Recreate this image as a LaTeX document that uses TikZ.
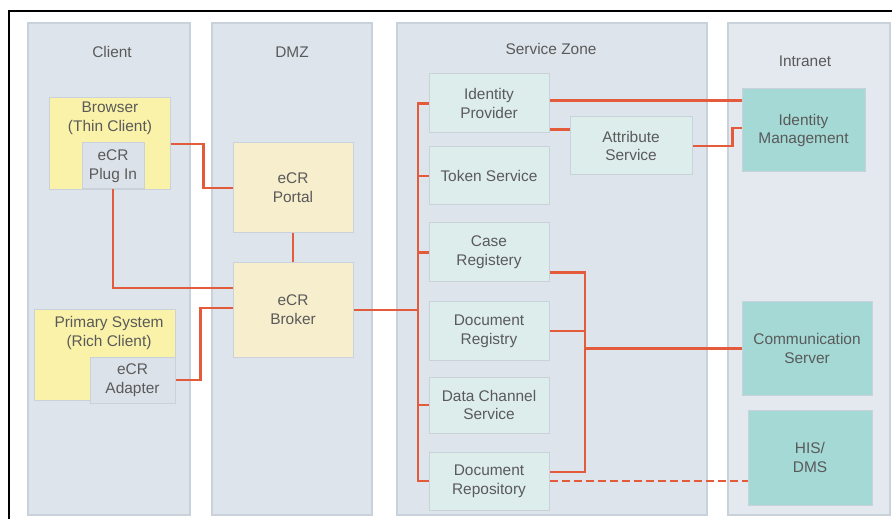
\documentclass[tikz,border=0pt]{standalone}
\usepackage{fontspec}
\setmainfont{Liberation Sans}
\usepackage{xcolor}
\usetikzlibrary{calc}

\definecolor{zonefill}{HTML}{DDE4EC}
\definecolor{zoneline}{HTML}{C9D1DB}
\definecolor{thinyellow}{HTML}{FAF2A8}
\definecolor{creambox}{HTML}{F7EECD}
\definecolor{plugfill}{HTML}{DCE2EA}
\definecolor{svcfill}{HTML}{DDEDEC}
\definecolor{tealbox}{HTML}{A4D9D5}
\definecolor{linkred}{HTML}{E45B3B}
\definecolor{txt}{HTML}{5A5A5A}

\begin{document}
\begin{tikzpicture}[x=1bp, y=-1bp,
  every node/.style={font=\fontsize{15.5}{19}\selectfont, text=txt, align=center},
  zone/.style={draw=zoneline, fill=zonefill, line width=1.2bp},
  box/.style={draw=zoneline, line width=1bp, inner sep=0pt},
  link/.style={draw=linkred, line width=2.6bp},
  dashlink/.style={link, dash pattern=on 8bp off 4bp}]
  \useasboundingbox (0,0) rectangle (892,519);

  % Frame
  \draw[line width=1.2bp] (9,519) -- (9,11) -- (892,11);

  % Zones
  \draw[zone] (28,23) rectangle (190,515);
  \draw[zone] (212,23) rectangle (372,515);
  \draw[zone] (397,23) rectangle (707,515);
  \draw[zone, fill=zonefill!80!white] (728,23) rectangle (890,515);

  % Zone titles
  \node (tclient) at (112,52) {Client};
  \node (tdmz) at (292,52) {DMZ};
  \node (tsvc) at (551,49) {Service Zone};
  \node (tintra) at (805,61) {Intranet};

  % Client
  \node[box, fill=thinyellow, minimum width=120bp, minimum height=92bp,
        label={[anchor=north, yshift=-1bp]north:Browser\\(Thin Client)}] (browser) at (110,144) {};
  \node[box, fill=plugfill, minimum width=62bp, minimum height=46bp] (plugin) at (113,166) {eCR\\Plug In};
  \node[box, fill=thinyellow, minimum width=140bp, minimum height=90bp,
        label={[anchor=north, xshift=4bp, yshift=-3bp]north:Primary System\\(Rich Client)}] (primary) at (105,355) {};
  \node[box, fill=plugfill, minimum width=85bp, minimum height=46bp] (adapter) at (132.5,380) {eCR\\Adapter};

  % DMZ
  \node[box, fill=creambox, minimum width=120bp, minimum height=90bp] (portal) at (293,188) {eCR\\Portal};
  \node[box, fill=creambox, minimum width=120bp, minimum height=94bp] (broker) at (293,310) {eCR\\Broker};

  % Service Zone
  \node[box, fill=svcfill, minimum width=120bp, minimum height=59bp] (idp) at (489,103.5) {Identity\\Provider};
  \node[box, fill=svcfill, minimum width=120bp, minimum height=58bp] (token) at (489,176) {Token Service};
  \node[box, fill=svcfill, minimum width=120bp, minimum height=59bp] (case) at (489,252.5) {Case\\Registery};
  \node[box, fill=svcfill, minimum width=120bp, minimum height=58bp] (docreg) at (489,331) {Document\\Registry};
  \node[box, fill=svcfill, minimum width=120bp, minimum height=56bp] (channel) at (489,405) {Data Channel\\Service};
  \node[box, fill=svcfill, minimum width=120bp, minimum height=58bp] (repo) at (489,481) {Document\\Repository};
  \node[box, fill=svcfill, minimum width=122bp, minimum height=58bp] (attr) at (631,146) {Attribute\\Service};

  % Intranet
  \node[box, fill=tealbox, minimum width=123bp, minimum height=83bp] (idm) at (803.5,130.5) {Identity\\Management};
  \node[box, fill=tealbox, minimum width=130bp, minimum height=93bp] (comm) at (807,348.5) {Communication\\Server};
  \node[box, fill=tealbox, minimum width=124bp, minimum height=95bp] (his) at (810,457.5) {HIS/\\DMS};

  % Bus lines
  \coordinate (bus) at (418,0);
  \coordinate (bus2) at (585,0);

  % Client <-> DMZ
  \draw[link] (browser.east) -- ++(33,0) |- (portal.west);
  \draw[link] (plugin.south) |- ([yshift=22bp]broker.west);
  \draw[link] (portal.south) -- (broker.north);
  \draw[link] (adapter.east) -- ++(25,0) |- ([yshift=2bp]broker.west);

  % DMZ <-> Service Zone
  \draw[link] (idp.west) -- (idp.west -| bus) |- (repo.west);
  \draw[link] (token.west) -- (token.west -| bus);
  \draw[link] (case.west) -- (case.west -| bus);
  \draw[link] (channel.west) -- (channel.west -| bus);
  \draw[link] (broker.east) -- (broker.east -| bus);

  % Service Zone <-> Intranet
  \draw[link] ([yshift=3bp]idp.east) -- ([yshift=3bp]idp.east -| idm.west);
  \draw[link] ([yshift=-26bp]idp.east) -- ([yshift=-26bp]idp.east -| attr.west);
  \draw[link] (attr.east) -- ++(40,0) |- ([yshift=2.5bp]idm.west);
  \draw[link] ([yshift=-20bp]case.east) -| ([yshift=9bp]repo.east -| bus2) -- ([yshift=9bp]repo.east);
  \draw[link] (docreg.east) -- (docreg.east -| bus2);
  \draw[link] (comm.west -| bus2) -- (comm.west);
  \draw[dashlink] (repo.east) -- (repo.east -| his.west);
\end{tikzpicture}
\end{document}
